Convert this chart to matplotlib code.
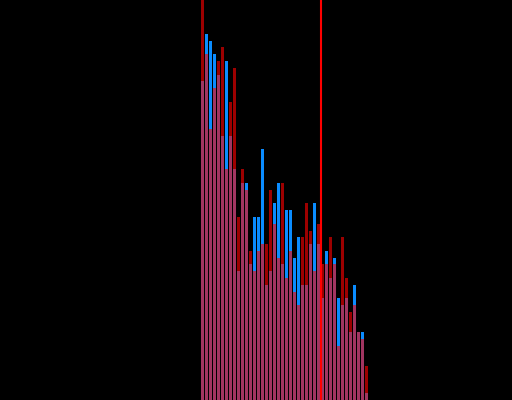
import matplotlib
matplotlib.use("Agg")
import matplotlib.pyplot as plt
import numpy as np

# histogram counts per bin (42 bins)
blue_counts = [47, 54, 53, 51, 48, 39, 50, 39, 34, 19, 32, 32, 20, 27, 27, 37, 17, 19, 29, 32, 20,
               28, 28, 21, 24, 17, 17, 23, 29, 23, 15, 22, 18, 21, 15, 14, 15, 10, 17, 10, 10, 1]
red_counts = [59, 51, 40, 46, 50, 52, 34, 44, 49, 27, 34, 31, 22, 19, 22, 23, 23, 31, 26, 21, 32,
              18, 22, 16, 14, 24, 29, 25, 19, 26, 20, 20, 24, 20, 8, 24, 18, 13, 14, 10, 9, 5]
marker_position = 29.95

fig = plt.figure(figsize=(5.12, 4.0), dpi=100, facecolor="black")
ax = fig.add_axes([0, 0, 1, 1])
ax.set_facecolor("black")

bins = np.arange(len(blue_counts))
ax.bar(bins, blue_counts, width=0.75, align="edge", color="#0a8cff", linewidth=0)
ax.bar(bins, red_counts, width=0.75, align="edge", color="#ff0000", alpha=0.62, linewidth=0)
ax.axvline(marker_position, color="#ff0000", linewidth=1.5)

ax.set_xlim(-201 / 4, (512 - 201) / 4)
ax.set_ylim(0, 59)
ax.axis("off")

fig.savefig("out.png", dpi=100, facecolor="black")
